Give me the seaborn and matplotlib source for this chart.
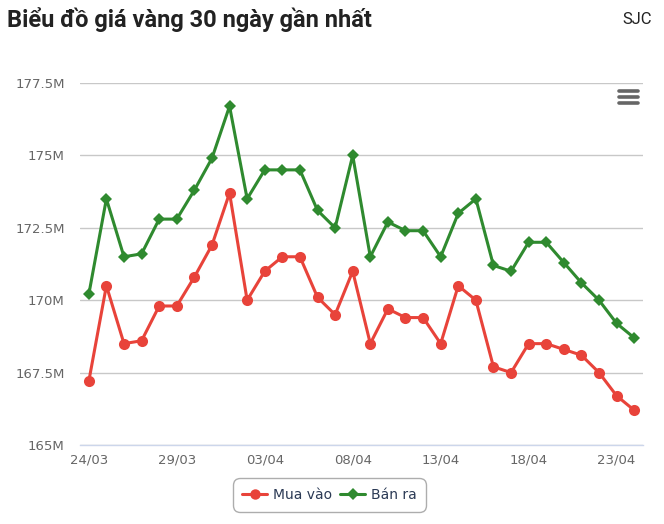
import matplotlib
matplotlib.use("Agg")
import matplotlib.pyplot as plt
import seaborn as sns
import pandas as pd
from matplotlib.lines import Line2D
from matplotlib.ticker import FixedLocator, FuncFormatter

# Dữ liệu (triệu đồng)
dates = ["24/03", "25/03", "26/03", "27/03", "28/03", "29/03", "30/03", "31/03",
         "01/04", "02/04", "03/04", "04/04", "05/04", "06/04", "07/04", "08/04",
         "09/04", "10/04", "11/04", "12/04", "13/04", "14/04", "15/04", "16/04",
         "17/04", "18/04", "19/04", "20/04", "21/04", "22/04", "23/04", "24/04"]
mua_vao = [167.2, 170.5, 168.5, 168.6, 169.8, 169.8, 170.8, 171.9,
           173.7, 170.0, 171.0, 171.5, 171.5, 170.1, 169.5, 171.0,
           168.5, 169.7, 169.4, 169.4, 168.5, 170.5, 170.0, 167.7,
           167.5, 168.5, 168.5, 168.3, 168.1, 167.5, 166.7, 166.2]
ban_ra = [170.2, 173.5, 171.5, 171.6, 172.8, 172.8, 173.8, 174.9,
          176.7, 173.5, 174.5, 174.5, 174.5, 173.1, 172.5, 175.0,
          171.5, 172.7, 172.4, 172.4, 171.5, 173.0, 173.5, 171.2,
          171.0, 172.0, 172.0, 171.3, 170.6, 170.0, 169.2, 168.7]
y_ticks = [165, 167.5, 170, 172.5, 175, 177.5]
series_names = ["Mua vào", "Bán ra"]
colors = {"Mua vào": "#e8433a", "Bán ra": "#2f8a2f"}

df = pd.DataFrame({
    "idx": list(range(len(dates))) * 2,
    "price": mua_vao + ban_ra,
    "series": ["Mua vào"] * len(dates) + ["Bán ra"] * len(dates),
})

sns.set_theme(style="white")
plt.rcParams["font.family"] = ["DejaVu Sans"]

fig = plt.figure(figsize=(6.64, 5.24), dpi=100)
ax = fig.add_axes([80 / 664, 79 / 524, 563 / 664, 362 / 524])

sns.lineplot(data=df[df.series == "Mua vào"], x="idx", y="price", ax=ax,
             color=colors["Mua vào"], linewidth=2.2, marker="o", markersize=8,
             markeredgewidth=0, legend=False, zorder=3)
sns.lineplot(data=df[df.series == "Bán ra"], x="idx", y="price", ax=ax,
             color=colors["Bán ra"], linewidth=2.2, marker="D", markersize=6,
             markeredgewidth=0, legend=False, zorder=3)

ax.set_xlim(-0.5, len(dates) - 0.5)
ax.set_ylim(165, 177.5)
ax.set_xlabel("")
ax.set_ylabel("")

ax.yaxis.set_major_locator(FixedLocator(y_ticks))
ax.yaxis.set_major_formatter(FuncFormatter(lambda v, p: f"{v:g}M"))
ax.grid(axis="y", color="#c8c8c8", linewidth=1)
ax.tick_params(axis="y", length=0, pad=11, labelsize=9.5, labelcolor="#666666")

ax.set_xticks(list(range(0, len(dates), 5)))
ax.set_xticklabels(dates[::5])
ax.set_xticks([i - 0.5 for i in range(len(dates) + 1)], minor=True)
ax.tick_params(axis="x", which="major", length=0, pad=6, labelsize=9.5, labelcolor="#666666")
ax.tick_params(axis="x", which="minor", length=5, width=1, color="#ccd6eb", direction="out")

for s in ["top", "right", "left"]:
    ax.spines[s].set_visible(False)
ax.spines["bottom"].set_color("#ccd6eb")
ax.spines["bottom"].set_linewidth(1)

fig.text(7 / 664, 1 - 20 / 524, "Biểu đồ giá vàng 30 ngày gần nhất", fontsize=17,
         fontweight="bold", family="Roboto", color="#222222", va="center", ha="left")
fig.text(652 / 664, 1 - 20 / 524, "SJC", fontsize=12, family="Roboto",
         color="#222222", va="center", ha="right")

# biểu tượng menu
for yy in [91, 97, 103]:
    fig.add_artist(Line2D([619 / 664, 638 / 664], [1 - yy / 524, 1 - yy / 524],
                          color="#666666", linewidth=2.6, solid_capstyle="round"))

handles = [Line2D([], [], color=colors[n], linewidth=2.2,
                  marker="o" if n == "Mua vào" else "D",
                  markersize=7.5 if n == "Mua vào" else 6, markeredgewidth=0)
           for n in series_names]
leg = fig.legend(handles, series_names, loc="center", bbox_to_anchor=(329.5 / 664, 1 - 495 / 524),
                 ncol=2, frameon=True, fontsize=10, handlelength=1.8, handletextpad=0.4,
                 columnspacing=0.6, borderpad=0.5, labelcolor="#2b3a55")
leg.get_frame().set_edgecolor("#999999")
leg.get_frame().set_linewidth(1)
leg.get_frame().set_boxstyle("round,pad=0.2,rounding_size=0.5")

fig.savefig("out.png", dpi=100)
